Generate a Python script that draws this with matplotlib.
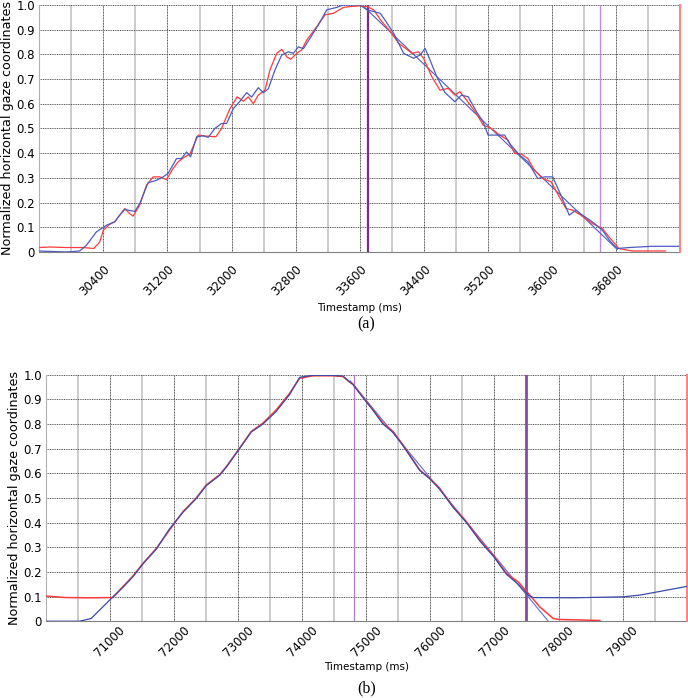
import numpy as np
import matplotlib.pyplot as plt
from matplotlib.ticker import FixedLocator

# ---- data (a) ----
a_red_t = [29600, 29733, 29938, 30146, 30279, 30354, 30400, 30479, 30542, 30667, 30729, 30771,
           30854, 30938, 31021, 31104, 31188, 31271, 31333, 31417, 31479, 31583, 31688, 31804,
           31875, 31979, 32071, 32146, 32208, 32271, 32333, 32417, 32479, 32563, 32625, 32688,
           32738, 32813, 32875, 32938, 33063, 33167, 33271, 33396, 33479, 33600, 33690, 33774,
           33856, 33980, 34084, 34187, 34249, 34332, 34394, 34497, 34600, 34704, 34786, 34848,
           34931, 35055, 35138, 35241, 35345, 35448, 35531, 35614, 35696, 35779, 35882, 35986,
           36089, 36172, 36254, 36358, 36502, 36626, 36709, 36833, 36998, 37411]
a_red_v = [0.018, 0.02, 0.018, 0.018, 0.014, 0.04, 0.088, 0.112, 0.122, 0.176, 0.155, 0.145,
           0.19, 0.27, 0.304, 0.304, 0.293, 0.338, 0.365, 0.385, 0.396, 0.473, 0.469, 0.466,
           0.5, 0.58, 0.628, 0.61, 0.628, 0.6, 0.635, 0.655, 0.737, 0.804, 0.82, 0.79,
           0.78, 0.804, 0.818, 0.858, 0.912, 0.96, 0.966, 0.99, 0.993, 0.996, 0.993, 0.98,
           0.94, 0.892, 0.845, 0.82, 0.804, 0.81, 0.784, 0.71, 0.655, 0.662, 0.635, 0.649,
           0.615, 0.56, 0.514, 0.5, 0.473, 0.453, 0.399, 0.396, 0.378, 0.331, 0.297, 0.284,
           0.223, 0.176, 0.169, 0.149, 0.115, 0.095, 0.061, 0.014, 0.004, 0.004]

a_blue_t = [29600, 29938, 30104, 30188, 30313, 30438, 30542, 30604, 30667, 30792, 30854, 30958,
            31063, 31146, 31208, 31313, 31375, 31438, 31488, 31563, 31646, 31708, 31792, 31875,
            31938, 32021, 32104, 32188, 32250, 32333, 32396, 32458, 32542, 32625, 32708, 32771,
            32833, 32896, 32979, 33083, 33188, 33313, 33396, 33600, 33690, 33856, 33939, 34022,
            34146, 34270, 34352, 34414, 34476, 34559, 34663, 34786, 34869, 34952, 35055, 35138,
            35200, 35282, 35407, 35469, 35593, 35696, 35820, 35903, 36006, 36109, 36213, 36296,
            36378, 36502, 36626, 36729, 36812, 36957, 37246, 37577]
a_blue_v = [0.004, 0.0, 0.004, 0.027, 0.081, 0.108, 0.122, 0.149, 0.172, 0.164, 0.196, 0.28,
            0.29, 0.304, 0.318, 0.378, 0.378, 0.405, 0.385, 0.466, 0.47, 0.464, 0.5, 0.52,
            0.52, 0.58, 0.61, 0.645, 0.627, 0.665, 0.645, 0.66, 0.737, 0.797, 0.81, 0.804,
            0.83, 0.823, 0.865, 0.919, 0.98, 0.99, 1.0, 1.0, 0.98, 0.966, 0.926, 0.885,
            0.804, 0.784, 0.797, 0.824, 0.777, 0.71, 0.645, 0.608, 0.635, 0.628, 0.568, 0.527,
            0.473, 0.473, 0.473, 0.439, 0.392, 0.365, 0.297, 0.304, 0.304, 0.23, 0.149, 0.169,
            0.149, 0.122, 0.088, 0.041, 0.014, 0.018, 0.023, 0.023]

a_fit_t = [33650, 36812]
a_fit_v = [0.993, 0.01]

a_marks = [33700, 36600, 37600]

# ---- data (b) ----
b_red_t = [70000, 70313, 70677, 71042, 71198, 71354, 71510, 71719, 71927, 72135, 72344, 72500,
           72708, 72813, 73000, 73203, 73385, 73594, 73802, 73958, 74167, 74479, 74635, 74740,
           74792, 75000, 75104, 75260, 75417, 75573, 75833, 75990, 76146, 76354, 76563, 76771,
           77000, 77188, 77370, 77531, 77708, 77917, 78021, 78646]
b_red_v = [0.102, 0.096, 0.095, 0.096, 0.14, 0.183, 0.234, 0.295, 0.37, 0.444, 0.5, 0.553,
           0.594, 0.627, 0.695, 0.77, 0.804, 0.858, 0.925, 0.986, 0.996, 0.996, 0.993, 0.97,
           0.962, 0.892, 0.858, 0.804, 0.77, 0.715, 0.614, 0.58, 0.539, 0.465, 0.404, 0.33,
           0.262, 0.194, 0.16, 0.112, 0.058, 0.011, 0.007, 0.003]

b_blue_t = [70000, 70521, 70703, 71016, 71198, 71354, 71510, 71719, 71927, 72135, 72344, 72500,
            72708, 72813, 73000, 73203, 73385, 73594, 73802, 73958, 74167, 74479, 74635, 74740,
            74792, 75000, 75104, 75260, 75417, 75573, 75833, 75990, 76146, 76354, 76563, 76771,
            77000, 77188, 77370, 77531, 77604, 78229, 79010, 79271, 80021]
b_blue_v = [0.0, 0.0, 0.011, 0.092, 0.137, 0.18, 0.232, 0.292, 0.375, 0.442, 0.498, 0.55,
            0.592, 0.625, 0.693, 0.768, 0.8, 0.852, 0.92, 0.99, 0.998, 0.998, 0.995, 0.972,
            0.96, 0.89, 0.856, 0.8, 0.766, 0.712, 0.612, 0.578, 0.536, 0.462, 0.4, 0.326,
            0.258, 0.19, 0.15, 0.105, 0.096, 0.095, 0.099, 0.106, 0.142]

b_fit_t = [74750, 77840]
b_fit_v = [0.975, 0.0]

b_marks = [74800, 77500, 80000]

red = '#ff3b3b'
blue = '#4c5cc0'
yticks = np.round(np.arange(0, 1.01, 0.1), 1)
ylabels = ['0'] + ['%.1f' % v for v in yticks[1:]]

fig = plt.figure(figsize=(6.88, 6.98), dpi=100)
ax1 = fig.add_axes([0.057, 0.639, 0.932, 0.354])
ax2 = fig.add_axes([0.067, 0.110, 0.931, 0.353])


def style(ax, xlim, major, start, top_panel):
    ax.set_xlim(*xlim)
    ax.set_ylim(0, 1)
    ax.xaxis.set_major_locator(FixedLocator(np.arange(start, xlim[1], major)))
    ax.xaxis.set_minor_locator(FixedLocator(np.arange(start - major / 2, xlim[1], major)))
    ax.set_yticks(yticks)
    ax.set_yticklabels(ylabels)
    ax.grid(which='minor', axis='x', color='#c8c8c8', lw=1.3, ls='-')
    ax.grid(which='major', axis='x', color='#505050', lw=0.7, ls=(0, (1, 0.6)))
    ax.grid(which='major', axis='y', color='#505050', lw=0.7, ls=(0, (1, 0.8)))
    ax.tick_params(which='both', length=0, labelsize=8.5)
    ax.tick_params(axis='y', pad=3)
    if top_panel:
        # labels hang down-left from the tick
        ax.tick_params(axis='x', pad=7.5)
        for lab in ax.get_xticklabels():
            lab.set_rotation(45)
            lab.set_ha('right')
            lab.set_va('top')
            lab.set_rotation_mode('anchor')
        ax.set_xlabel('Timestamp (ms)', fontsize=7.5, labelpad=3.5)
    else:
        # labels centred under the tick
        ax.tick_params(axis='x', pad=1.5)
        for lab in ax.get_xticklabels():
            lab.set_rotation(45)
            lab.set_ha('center')
        ax.set_xlabel('Timestamp (ms)', fontsize=7.5, labelpad=2)
    for s in ['top', 'right']:
        ax.spines[s].set_visible(False)
    ax.spines['left'].set_color('#b0b0b0')
    ax.spines['bottom'].set_color('#808080')
    ax.spines['left'].set_linewidth(0.8)
    ax.spines['bottom'].set_linewidth(0.8)
    ax.set_ylabel('Normalized horizontal gaze coordinates', fontsize=9.2, labelpad=2)


# (a)
style(ax1, (29600, 37600), 800, 30400, True)
ax1.axvline(a_marks[0], color='#7b2b8e', lw=1.6, zorder=3)
ax1.axvline(a_marks[1], color='#c58ad6', lw=1.0, zorder=3)
ax1.axvline(a_marks[2], color='#ff8080', lw=1.4, zorder=3, clip_on=False)
ax1.plot(a_fit_t, a_fit_v, color=blue, lw=0.8, zorder=4)
ax1.plot(a_red_t, a_red_v, color=red, lw=0.9, zorder=4)
ax1.plot(a_blue_t, a_blue_v, color=blue, lw=0.9, zorder=4)

# (b)
style(ax2, (70000, 80000), 1000, 71000, False)
ax2.axvline(b_marks[0], color='#b57ac8', lw=0.9, zorder=3)
ax2.axvline(b_marks[1], color='#8a4aa8', lw=2.0, zorder=3)
ax2.axvline(b_marks[2], color='#ff8080', lw=1.4, zorder=3, clip_on=False)
ax2.plot(b_fit_t, b_fit_v, color='#6070d0', lw=0.8, zorder=4)
ax2.plot(b_red_t, b_red_v, color=red, lw=1.1, zorder=4)
ax2.plot(b_blue_t, b_blue_v, color='#3a4aa8', lw=0.9, zorder=4)

fig.text(0.532, 0.535, '(a)', family='Liberation Serif', fontsize=11.5, ha='center', va='center')
fig.text(0.533, 0.014, '(b)', family='Liberation Serif', fontsize=11.5, ha='center', va='center')

fig.savefig('out.png', dpi=100, facecolor='white')
